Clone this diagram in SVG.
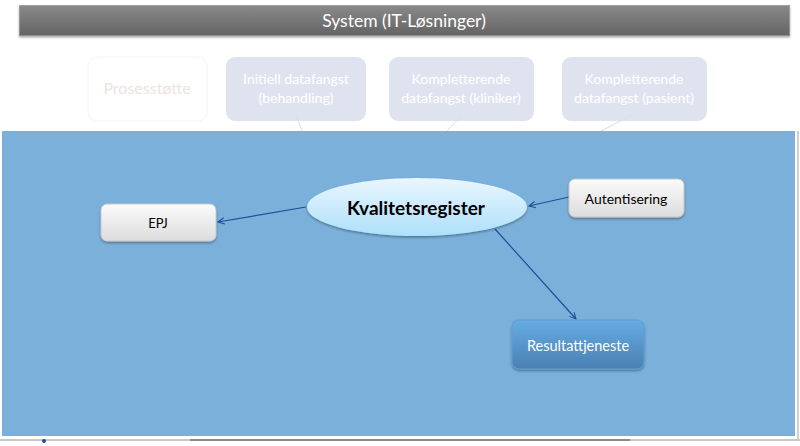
<svg xmlns="http://www.w3.org/2000/svg" width="800" height="446" viewBox="0 0 800 446">
<defs>
<linearGradient id="gBar" x1="0" y1="0" x2="0" y2="1"><stop offset="0" stop-color="#8a8a8a"/><stop offset="1" stop-color="#636363"/></linearGradient>
<linearGradient id="gEll" x1="0" y1="0" x2="0" y2="1"><stop offset="0" stop-color="#eaf6fe"/><stop offset="1" stop-color="#ade0fb"/></linearGradient>
<linearGradient id="gWhite" x1="0" y1="0" x2="0" y2="1"><stop offset="0" stop-color="#fbfbfb"/><stop offset="1" stop-color="#dcdcdc"/></linearGradient>
<linearGradient id="gRes" x1="0" y1="0" x2="0" y2="1"><stop offset="0" stop-color="#66ace3"/><stop offset="1" stop-color="#4a80b2"/></linearGradient>
<marker id="arr" viewBox="0 0 10 10" refX="9" refY="5" markerWidth="8" markerHeight="8" orient="auto" markerUnits="userSpaceOnUse"><path d="M1,1 L9,5 L1,9" fill="none" stroke="#1f4e9a" stroke-width="1.3"/></marker>
<filter id="sh" x="-10%" y="-20%" width="120%" height="150%"><feDropShadow dx="0" dy="1.5" stdDeviation="1" flood-color="#000" flood-opacity="0.35"/></filter>
</defs>
<style>
text{font-family:Lato,"Open Sans","Liberation Sans",sans-serif;text-anchor:middle;dominant-baseline:central}
.faint{fill:#dfe3f0}
.ft{fill:#ffffff;font-size:14px}
.conn{stroke:#1f4e9a;stroke-width:1.2;fill:none;marker-end:url(#arr)}
.ghost{stroke:#d8deeb;stroke-width:1;fill:none}
</style>
<rect width="800" height="446" fill="#ffffff"/>
<!-- header -->
<g id="header">
<rect x="19" y="5" width="771" height="31" fill="url(#gBar)" filter="url(#sh)"/>
<rect x="19.5" y="5.5" width="770" height="30" fill="none" stroke="#b0b0b0" stroke-width="1" opacity="0.6"/>
<text x="404" y="20" fill="#ffffff" style="font-size:17.5px">System (IT-Løsninger)</text>
</g>
<!-- faded boxes -->
<g id="prosess"><rect x="88" y="57" width="119" height="64" rx="9" fill="#ffffff" stroke="#f4f4f6"/><text x="147" y="87" style="font-size:16px" fill="#ece4e0">Prosesstøtte</text></g>
<g id="initiell"><rect x="226" y="57" width="140" height="64" rx="9" class="faint"/><text class="ft" x="296" y="78">Initiell datafangst</text><text class="ft" x="296" y="97">(behandling)</text></g>
<g id="kliniker"><rect x="389" y="57" width="145" height="64" rx="9" class="faint"/><text class="ft" x="461" y="78">Kompletterende</text><text class="ft" x="461" y="97">datafangst (kliniker)</text></g>
<g id="pasient"><rect x="562" y="57" width="145" height="64" rx="9" class="faint"/><text class="ft" x="634" y="78">Kompletterende</text><text class="ft" x="634" y="97">datafangst (pasient)</text></g>
<g id="ghost-lines"><line class="ghost" x1="296" y1="115" x2="302" y2="131"/><line class="ghost" x1="462" y1="115" x2="447" y2="131"/><line class="ghost" x1="632" y1="115" x2="601" y2="131"/></g>
<!-- panel -->
<g id="panel">
<line x1="0" y1="440" x2="800" y2="440" stroke="#c8c8c8" stroke-width="2"/>
<line x1="190" y1="440" x2="630" y2="440" stroke="#8a8a8a" stroke-width="2"/>
<line x1="798" y1="131" x2="798" y2="440" stroke="#d0d0d0" stroke-width="2"/>
<rect x="2" y="131" width="793" height="305" fill="#7ab0da"/>
<circle cx="44" cy="441" r="2" fill="#1f4e9a"/>
</g>
<!-- connectors -->
<g id="connectors">
<line class="conn" x1="306" y1="207" x2="218" y2="222"/>
<line class="conn" x1="569" y1="197" x2="529" y2="206"/>
<line class="conn" x1="495" y1="229" x2="576" y2="319"/>
</g>
<!-- nodes -->
<g id="kvalitetsregister"><ellipse cx="417" cy="207" rx="110" ry="29" fill="url(#gEll)" filter="url(#sh)"/><text x="416" y="207" style="font-size:19px;font-weight:bold" fill="#000">Kvalitetsregister</text></g>
<g id="epj"><rect x="101" y="204" width="115" height="37" rx="6" fill="url(#gWhite)" stroke="#c8c8c8" filter="url(#sh)"/><text x="158" y="223" style="font-size:13px" fill="#000">EPJ</text></g>
<g id="autentisering"><rect x="569" y="179" width="115" height="38" rx="6" fill="url(#gWhite)" stroke="#c8c8c8" filter="url(#sh)"/><text x="626" y="198" style="font-size:14px" fill="#000">Autentisering</text></g>
<g id="resultattjeneste"><rect x="512" y="320" width="132" height="49" rx="7" fill="url(#gRes)" stroke="#5f9ed3" filter="url(#sh)"/><text x="578" y="345" style="font-size:14.5px" fill="#ffffff">Resultattjeneste</text></g>
</svg>
